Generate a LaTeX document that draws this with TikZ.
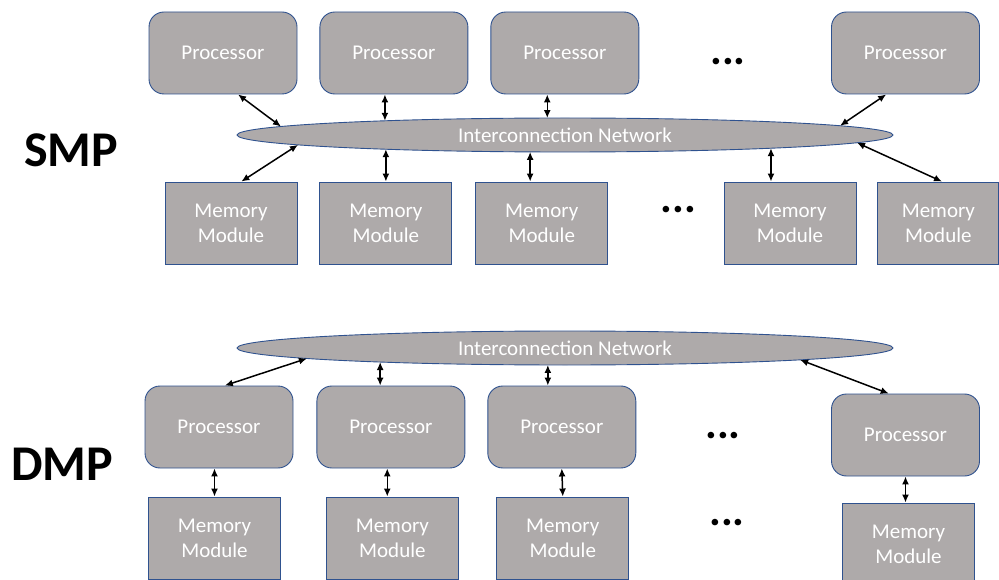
\documentclass[tikz,border=0pt]{standalone}
\usepackage{fontspec}
\setmainfont{Carlito}
\usetikzlibrary{arrows.meta, calc, positioning, shapes.geometric}
\definecolor{boxgray}{HTML}{AEAAAA}
\definecolor{boxblue}{HTML}{2F528F}
\tikzstyle{proc}=[rectangle, rounded corners=15pt, draw=boxblue, fill=boxgray, line width=0.9pt, minimum width=148pt, minimum height=82pt, text=white, font=\fontsize{21}{25}\selectfont]
\tikzstyle{mem}=[rectangle, draw=boxblue, fill=boxgray, line width=0.9pt, minimum width=132pt, minimum height=82pt, text=white, align=center, font=\fontsize{21}{25}\selectfont]
\tikzstyle{bus}=[ellipse, draw=boxblue, fill=boxgray, line width=0.9pt, minimum width=656pt, minimum height=34pt, inner sep=0pt, text=white, font=\fontsize{21}{25}\selectfont]
\tikzstyle{link}=[{Latex[length=8pt,width=7pt]}-{Latex[length=8pt,width=7pt]}, line width=1.5pt]
\tikzstyle{dots}=[inner sep=0pt, font=\fontsize{44}{44}\bfseries]
\tikzstyle{title}=[inner sep=0pt, font=\fontsize{50}{50}\bfseries]

\begin{document}
\begin{tikzpicture}[x=1pt, y=-1pt]
    \useasboundingbox (0,0) rectangle (999,580);

    \node[title] (smp) at (71,150) {SMP};
    \node[proc] (p1) at (223,53) {Processor};
    \node[proc] (p2) [right=22pt of p1] {Processor};
    \node[proc] (p3) [right=22pt of p2] {Processor};
    \node[dots] (pdots) at (728,62) {...};
    \node[proc] (p5) at (905.5,53) {Processor};
    \node[bus] (smpnet) at (565,135) {Interconnection Network};
    \node[mem] (m1) at (231,223) {Memory\\Module};
    \node[mem] (m2) [right=22pt of m1] {Memory\\Module};
    \node[mem] (m3) [right=23pt of m2] {Memory\\Module};
    \node[dots] (mdots) at (678.5,210) {...};
    \node[mem] (m5) at (790,223) {Memory\\Module};
    \node[mem, minimum width=121pt] (m6) [right=21pt of m5] {Memory\\Module};

    \draw[link] (p1.290) -- ($(smpnet)+(150:328pt and 17pt)$);
    \draw[link] ($(smpnet)+(123.3:328pt and 17pt)$) coordinate (s2) -- (s2 |- p2.south);
    \draw[link] ($(smpnet)+(93.1:328pt and 17pt)$) coordinate (s3) -- (s3 |- p3.south);
    \draw[link] (p5.245) -- ($(smpnet)+(33:328pt and 17pt)$);
    \draw[link] (m1.76) -- ($(smpnet)+(215.5:328pt and 17pt)$);
    \draw[link] ($(smpnet)+(236.9:328pt and 17pt)$) coordinate (t2) -- (t2 |- m2.north);
    \draw[link] ($(smpnet)+(263.9:328pt and 17pt)$) coordinate (t3) -- (t3 |- m3.north);
    \draw[link] ($(smpnet)+(308.9:328pt and 17pt)$) coordinate (t5) -- (t5 |- m5.north);
    \draw[link] (m6.85) -- ($(smpnet)+(332.9:328pt and 17pt)$);

    \node[title] (dmp) at (62,464) {DMP};
    \node[bus] (dmpnet) at (565,348) {Interconnection Network};
    \node[proc] (q1) at (219,427) {Processor};
    \node[proc] (q2) [right=23pt of q1] {Processor};
    \node[proc] (q3) [right=22pt of q2] {Processor};
    \node[dots] (qdots) at (723,436) {...};
    \node[proc] (q5) at (905.5,435) {Processor};
    \node[mem] (n1) at (214.5,538) {Memory\\Module};
    \node[mem] (n2) [right=45pt of n1] {Memory\\Module};
    \node[mem] (n3) [right=37.5pt of n2] {Memory\\Module};
    \node[dots] (ndots) at (727,523) {...};
    \node[mem] (n5) at (908.5,544) {Memory\\Module};

    \draw[link] ($(dmpnet)+(218.1:328pt and 17pt)$) -- (q1.82);
    \draw[link] ($(dmpnet)+(235.7:328pt and 17pt)$) coordinate (d2) -- (d2 |- q2.north);
    \draw[link] ($(dmpnet)+(267:328pt and 17pt)$) coordinate (d3) -- (d3 |- q3.north);
    \draw[link] ($(dmpnet)+(315.8:328pt and 17pt)$) -- (q5.112);
    \draw[link] (q1.south -| n1.north) -- (n1.north);
    \draw[link] (q2.265) -- (q2.265 |- n2.north);
    \draw[link] (q3.south) -- (n3.north);
    \draw[link] (q5.south) -- (q5.south |- n5.north);
\end{tikzpicture}
\end{document}
